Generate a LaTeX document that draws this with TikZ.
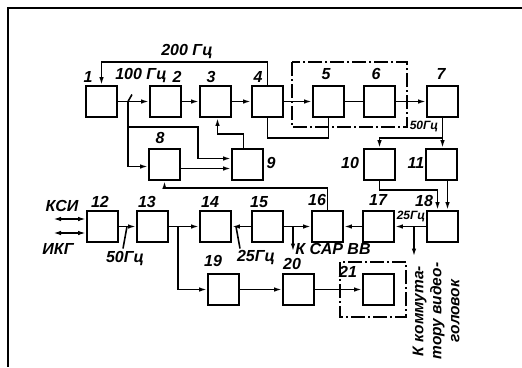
\documentclass[tikz,border=0pt]{standalone}
\usepackage{fontspec}
\newfontfamily\lettering{Liberation Sans}
\usepackage{tikz}
\usetikzlibrary{arrows.meta, positioning, calc}

\begin{document}
\begin{tikzpicture}[
    x=1pt, y=-1pt,
    box/.style={draw, rectangle, line width=1.8pt,
                minimum width=31pt, minimum height=31pt, inner sep=0pt},
    arrow/.style={-{Latex[length=8pt, width=4.5pt]}, line width=1.6pt},
    link/.style={line width=1.6pt},
    both/.style={{Latex[length=8pt, width=4.5pt]}-{Latex[length=8pt, width=4.5pt]}, line width=1.6pt},
    unit/.style={draw, line width=1.6pt, dash pattern=on 14pt off 3pt on 2pt off 3pt},
    num/.style={font=\lettering\bfseries\itshape\fontsize{16}{17}\selectfont, inner sep=0pt},
    lbl/.style={font=\lettering\bfseries\itshape\fontsize{12}{13}\selectfont, inner sep=0pt},
    side/.style={font=\lettering\bfseries\itshape\fontsize{15.5}{18}\selectfont, inner sep=0pt},
    frame/.style={line width=2pt}
  ]
    \useasboundingbox (0,0) rectangle (522,367);
    \draw[frame] (522,8) -- (8,8) -- (8,367);

    % dash-dot units
    \draw[unit] (292,62) rectangle (407,127);
    \draw[unit] (340,262) rectangle (406,317);

    % row 1
    \node[box] (b1) at (101.5,101.5) {};
    \node[box] (b2) at (165.5,101.5) {};
    \node[box] (b3) at (215.5,101.5) {};
    \node[box] (b4) at (267.5,101.5) {};
    \node[box] (b5) at (328.5,101.5) {};
    \node[box] (b6) at (379.5,101.5) {};
    \node[box] (b7) at (442.5,101.5) {};
    % row 2
    \node[box] (b8) at (164.5,164.5) {};
    \node[box] (b9) at (247.5,164.5) {};
    \node[box] (b10) at (379.5,164.5) {};
    \node[box] (b11) at (441.5,164.5) {};
    % row 3
    \node[box] (b12) at (102.5,226.5) {};
    \node[box] (b13) at (152.5,226.5) {};
    \node[box] (b14) at (215.5,226.5) {};
    \node[box] (b15) at (267.5,226.5) {};
    \node[box] (b16) at (327.5,226.5) {};
    \node[box] (b17) at (378.5,226.5) {};
    \node[box] (b18) at (442.5,226.5) {};
    % row 4
    \node[box] (b19) at (223.5,289.5) {};
    \node[box] (b20) at (298.5,289.5) {};
    \node[box] (b21) at (378.5,289.5) {};

    % numbers
    \node[num] at (88,77) {1};
    \node[num] at (177,77) {2};
    \node[num] at (211,77) {3};
    \node[num] at (258,77) {4};
    \node[num] at (326,74) {5};
    \node[num] at (376,74) {6};
    \node[num] at (441,74) {7};
    \node[num] at (160,138) {8};
    \node[num] at (271,163) {9};
    \node[num] at (350,163) {10};
    \node[num] at (416,163) {11};
    \node[num] at (100,202) {12};
    \node[num] at (147,202) {13};
    \node[num] at (210,202) {14};
    \node[num] at (259,202) {15};
    \node[num] at (317,200) {16};
    \node[num] at (378,200) {17};
    \node[num] at (424,201) {18};
    \node[num] at (213,261) {19};
    \node[num] at (292,264) {20};
    \node[num] at (348,272) {21};

    % labels
    \node[num] at (187,52) {200 Гц};
    \node[num] at (141,76) {100 Гц};
    \node[lbl] at (424,127) {50Гц};
    \node[num] at (62,206) {КСИ};
    \node[num] at (58,249) {ИКГ};
    \node[num] at (125,259) {50Гц};
    \node[num] at (256,258) {25Гц};
    \node[num] at (333,249) {К САР ВВ};
    \node[lbl] at (411,217) {25Гц};
    \node[side, rotate=90, align=center] at (436,311)
      {К коммута-\\тору видео-\\головок};

    % junctions and free ends
    \coordinate (j1) at (128,101.5);
    \coordinate (j7) at (442.5,138);
    \coordinate (j12) at (127,226.5);
    \coordinate (j13) at (178,226.5);
    \coordinate (j14) at (236,226.5);
    \coordinate (j15) at (293,226.5);
    \coordinate (j18) at (414,226.5);
    \coordinate (ksi) at (53,219);
    \coordinate (ikg) at (53,233);

    % row 1 links
    \draw[arrow] (b4.north) -- ++(0,-23) -| (b1.north);
    \draw[arrow] (b1) -- (b2);
    \draw[link] (j1) -- ++(4,-7);
    \draw[arrow] (b2) -- (b3);
    \draw[arrow] (b3) -- (b4);
    \draw[arrow] (b4) -- (b5);
    \draw[link] (b5) -- (b6);
    \draw[arrow] (b6) -- (b7);
    \draw[link] (b4.south) -- ++(0,20) -| (b5.south);
    \draw[arrow] (j1) |- (198,127) |- ([yshift=6pt]b9.west);
    \draw[arrow] (j1) |- ([yshift=-2pt]b8.west);
    \draw[arrow] ([yshift=-4pt]b8.east) -- ([yshift=-4pt]b9.west);
    \draw[arrow] ([xshift=-4pt]b9.north) -- ++(0,-14) -| ([xshift=2pt]b3.south);
    \draw[arrow] (b7.south) -- (b7.south |- b11.north);
    \draw[arrow] (j7) -| (b10.north);

    % row 2 to row 3
    \draw[arrow] (b10.south) -- ++(0,9) -| ([xshift=-5pt]b18.north);
    \draw[arrow] ([xshift=5pt]b18.north |- b11.south) -- ([xshift=5pt]b18.north);
    \draw[arrow] (b16.north) -- ++(0,-22) -| (b8.south);

    % row 3 links
    \draw[both] (ksi) -- (ksi -| b12.west);
    \draw[both] (ikg) -- (ikg -| b12.west);
    \draw[arrow] (b12) -- (b13);
    \draw[link] (j12) -- ++(-4,22);
    \draw[arrow] (b13) -- (b14);
    \draw[arrow] (j13) |- (b19.west);
    \draw[arrow] (b15) -- (b14);
    \draw[link] (j14) -- ++(4,22);
    \draw[arrow] (b15) -- (b16);
    \draw[arrow] (j15) -- ++(0,25);
    \draw[arrow] (b17) -- (b16);
    \draw[arrow] (b18) -- (b17);
    \draw[arrow] (j18) -- ++(0,30);

    % row 4 links
    \draw[arrow] (b19) -- (b20);
    \draw[arrow] (b20) -- (b21);
  \end{tikzpicture}
\end{document}
